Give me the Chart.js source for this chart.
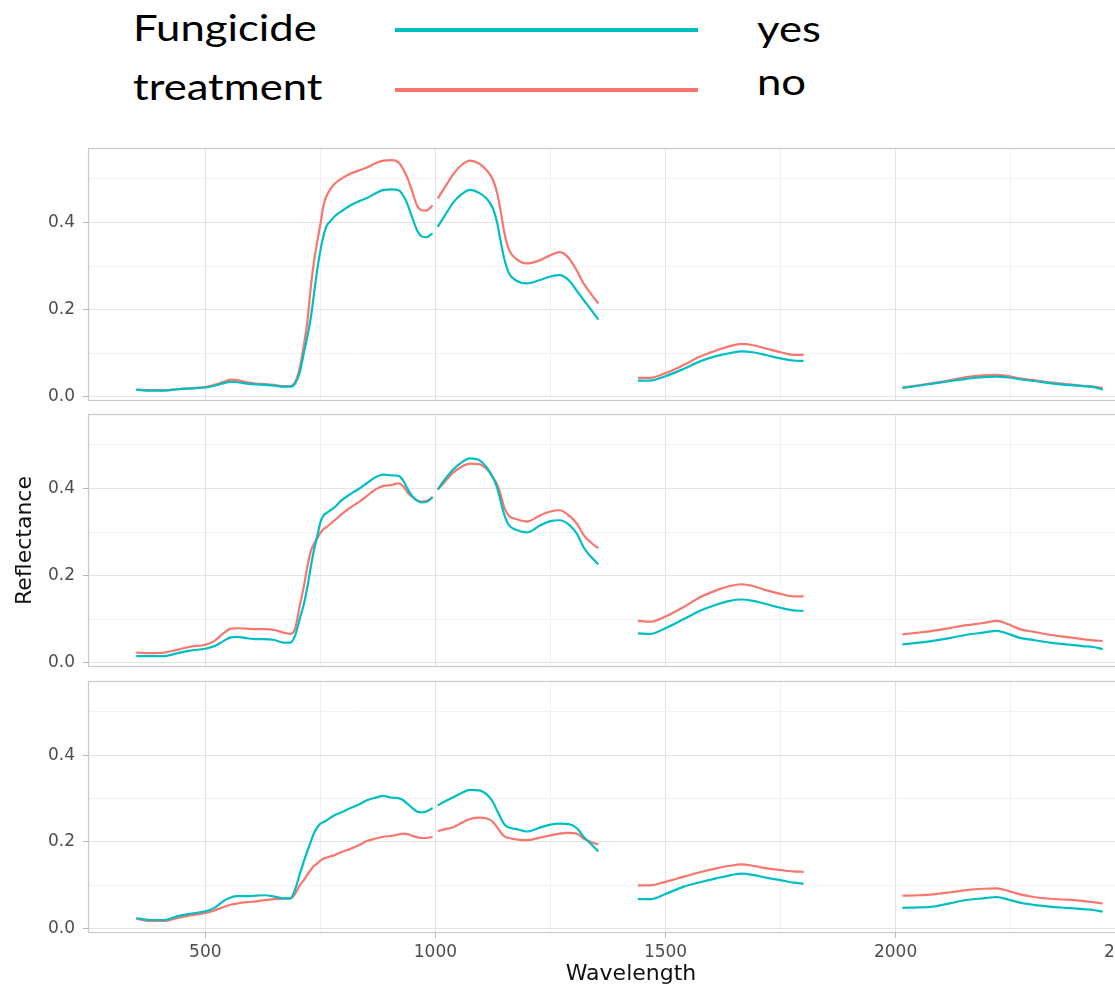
<!DOCTYPE html>
<html>
<head>
<meta charset="utf-8">
<title>Reflectance spectra by fungicide treatment</title>
<script src="https://cdn.jsdelivr.net/npm/chart.js@4.4.1/dist/chart.umd.min.js"></script>
<style>
  html, body { margin: 0; padding: 0; background: #fff; overflow: hidden; }
  #wrap { position: relative; width: 1115px; height: 989px; overflow: hidden; background: #fff; }
  #wrap canvas { position: absolute; left: 0; }
  .leg { position: absolute; font-family: Lato, "Open Sans", sans-serif; font-size: 37px; line-height: 1;
         color: #000; white-space: nowrap; transform: scaleX(1.18); transform-origin: 0 0; }
  .key { position: absolute; left: 395px; width: 303px; height: 4px; }
</style>
</head>
<body>
<div id="wrap">
  <div class="leg" style="left:133px; top:8px;">Fungicide</div>
  <div class="leg" style="left:133px; top:67px;">treatment</div>
  <div class="key" id="keyYes" style="top:28px;"></div>
  <div class="key" id="keyNo" style="top:88px;"></div>
  <div class="leg" style="left:757px; top:9px;">yes</div>
  <div class="leg" style="left:757px; top:62px;">no</div>

  <canvas id="p1" width="1180" height="257" style="top:146px;"></canvas>
  <canvas id="p2" width="1180" height="257" style="top:412px;"></canvas>
  <canvas id="p3" width="1180" height="310" style="top:679px;"></canvas>
</div>

<script>
// Wavelength (nm); null-valued rows at 1000, 1400 and 1900 mark the removed water-absorption bands
const WAVELENGTH = [
  350, 380, 410, 440, 470, 500, 520, 540, 555, 570, 590, 610, 630, 650, 670, 685, 695, 705, 714, 722,
  729, 736, 743, 750, 757, 764, 772, 780, 795, 815, 835, 851, 870, 887, 905, 920, 930, 940, 950, 960,
  970, 980, 994,
  1000,
  1005, 1020, 1039, 1057, 1075, 1095, 1112, 1125, 1134, 1142, 1150, 1160, 1175, 1199, 1227, 1250, 1270,
  1290, 1308, 1322, 1338, 1354,
  1400,
  1440, 1466, 1500, 1540, 1575, 1610, 1640, 1665, 1690, 1720, 1750, 1778, 1800,
  1900,
  2015, 2050, 2081, 2120, 2154, 2190, 2220, 2245, 2270, 2300, 2335, 2370, 2407, 2430, 2450
];

// Panel 1
const P1_YES = [
  0.016, 0.014, 0.014, 0.017, 0.019, 0.021, 0.025, 0.031, 0.034, 0.033, 0.030, 0.028, 0.027, 0.025, 0.023, 0.023, 0.030, 0.055, 0.100, 0.140,
  0.180, 0.235, 0.290, 0.336, 0.370, 0.393, 0.403, 0.413, 0.425, 0.439, 0.449, 0.456, 0.467, 0.475, 0.476, 0.474, 0.462, 0.440, 0.410, 0.382,
  0.368, 0.366, 0.375,
  null,
  0.390, 0.415, 0.446, 0.465, 0.475, 0.468, 0.454, 0.432, 0.400, 0.355, 0.315, 0.283, 0.267, 0.260, 0.268, 0.276, 0.279,
  0.267, 0.242, 0.222, 0.200, 0.177,
  null,
  0.037, 0.037, 0.047, 0.064, 0.081, 0.093, 0.100, 0.104, 0.102, 0.095, 0.088, 0.083, 0.082,
  null,
  0.020, 0.025, 0.030, 0.036, 0.041, 0.045, 0.046, 0.044, 0.040, 0.036, 0.031, 0.027, 0.024, 0.022, 0.016
];
const P1_NO = [
  0.016, 0.015, 0.015, 0.017, 0.019, 0.022, 0.027, 0.034, 0.039, 0.038, 0.033, 0.030, 0.029, 0.027, 0.024, 0.024, 0.033, 0.065, 0.118, 0.175,
  0.250, 0.310, 0.355, 0.396, 0.440, 0.462, 0.477, 0.488, 0.500, 0.512, 0.520, 0.526, 0.536, 0.542, 0.543, 0.538, 0.522, 0.500, 0.470, 0.439,
  0.428, 0.427, 0.439,
  null,
  0.455, 0.480, 0.511, 0.532, 0.542, 0.535, 0.519, 0.498, 0.468, 0.425, 0.375, 0.337, 0.317, 0.306, 0.313, 0.325, 0.332,
  0.318, 0.288, 0.260, 0.236, 0.214,
  null,
  0.043, 0.043, 0.054, 0.073, 0.092, 0.106, 0.116, 0.121, 0.118, 0.110, 0.102, 0.096, 0.096,
  null,
  0.021, 0.026, 0.031, 0.038, 0.045, 0.049, 0.050, 0.047, 0.042, 0.038, 0.033, 0.029, 0.025, 0.023, 0.020
];

// Panel 2
const P2_YES = [
  0.015, 0.015, 0.015, 0.022, 0.028, 0.032, 0.038, 0.050, 0.058, 0.059, 0.056, 0.054, 0.054, 0.052, 0.046, 0.046, 0.062, 0.100, 0.134, 0.175,
  0.219, 0.258, 0.290, 0.322, 0.338, 0.344, 0.350, 0.356, 0.372, 0.387, 0.400, 0.412, 0.426, 0.432, 0.430, 0.429, 0.418, 0.398, 0.382, 0.372,
  0.368, 0.369, 0.380,
  null,
  0.398, 0.420, 0.444, 0.460, 0.469, 0.465, 0.448, 0.425, 0.402, 0.370, 0.338, 0.315, 0.305, 0.299, 0.315, 0.325, 0.327,
  0.317, 0.295, 0.265, 0.243, 0.226,
  null,
  0.067, 0.066, 0.079, 0.100, 0.119, 0.133, 0.142, 0.145, 0.142, 0.134, 0.126, 0.120, 0.119,
  null,
  0.042, 0.046, 0.050, 0.057, 0.064, 0.069, 0.073, 0.066, 0.057, 0.052, 0.046, 0.042, 0.038, 0.036, 0.031
];
const P2_NO = [
  0.023, 0.022, 0.023, 0.030, 0.037, 0.041, 0.050, 0.068, 0.078, 0.079, 0.078, 0.077, 0.077, 0.075, 0.069, 0.066, 0.078, 0.130, 0.175, 0.222,
  0.255, 0.273, 0.285, 0.298, 0.307, 0.312, 0.319, 0.326, 0.340, 0.356, 0.370, 0.383, 0.398, 0.406, 0.408, 0.412, 0.405, 0.390, 0.380, 0.373,
  0.370, 0.371, 0.380,
  null,
  0.397, 0.415, 0.437, 0.450, 0.457, 0.456, 0.444, 0.425, 0.410, 0.385, 0.355, 0.337, 0.330, 0.324, 0.338, 0.347, 0.350,
  0.338, 0.318, 0.293, 0.276, 0.263,
  null,
  0.096, 0.094, 0.106, 0.128, 0.150, 0.166, 0.176, 0.180, 0.176, 0.166, 0.158, 0.152, 0.152,
  null,
  0.065, 0.069, 0.073, 0.080, 0.086, 0.091, 0.096, 0.088, 0.077, 0.071, 0.064, 0.059, 0.054, 0.051, 0.050
];

// Panel 3
const P3_YES = [
  0.024, 0.020, 0.020, 0.029, 0.035, 0.040, 0.048, 0.064, 0.072, 0.075, 0.075, 0.076, 0.077, 0.074, 0.070, 0.070, 0.090, 0.125, 0.155, 0.180,
  0.200, 0.220, 0.233, 0.242, 0.246, 0.250, 0.256, 0.261, 0.268, 0.278, 0.287, 0.296, 0.302, 0.306, 0.302, 0.301, 0.296, 0.287, 0.278, 0.270,
  0.268, 0.270, 0.278,
  null,
  0.284, 0.293, 0.303, 0.313, 0.320, 0.319, 0.309, 0.292, 0.272, 0.255, 0.240, 0.233, 0.230, 0.224, 0.233, 0.240, 0.242,
  0.241, 0.231, 0.212, 0.195, 0.178,
  null,
  0.068, 0.068, 0.080, 0.097, 0.107, 0.116, 0.123, 0.127, 0.124, 0.117, 0.112, 0.106, 0.104,
  null,
  0.048, 0.049, 0.051, 0.059, 0.066, 0.070, 0.073, 0.067, 0.060, 0.055, 0.051, 0.048, 0.045, 0.043, 0.039
];
const P3_NO = [
  0.023, 0.018, 0.018, 0.025, 0.031, 0.036, 0.042, 0.050, 0.055, 0.058, 0.061, 0.063, 0.066, 0.068, 0.069, 0.070, 0.080, 0.100, 0.112, 0.125,
  0.135, 0.145, 0.150, 0.157, 0.162, 0.164, 0.167, 0.169, 0.176, 0.184, 0.193, 0.202, 0.208, 0.212, 0.214, 0.217, 0.219, 0.218, 0.214, 0.211,
  0.209, 0.209, 0.212,
  null,
  0.225, 0.229, 0.234, 0.244, 0.253, 0.256, 0.254, 0.246, 0.234, 0.222, 0.213, 0.209, 0.206, 0.204, 0.210, 0.215, 0.219,
  0.221, 0.219, 0.208, 0.200, 0.194,
  null,
  0.100, 0.100, 0.108, 0.120, 0.130, 0.139, 0.145, 0.148, 0.145, 0.139, 0.135, 0.132, 0.131,
  null,
  0.076, 0.077, 0.079, 0.084, 0.089, 0.092, 0.093, 0.087, 0.079, 0.073, 0.069, 0.067, 0.064, 0.061, 0.058
];

// Axis breaks
const X_BREAKS = [500, 750, 1000, 1250, 1500, 1750, 2000, 2250, 2500];
const X_MAJOR = [500, 1000, 1500, 2000, 2500];
const Y_BREAKS = [0, 0.1, 0.2, 0.3, 0.4, 0.5];
const Y_MAJOR = [0, 0.2, 0.4];
const TREATMENTS = ['yes', 'no'];

const COLORS = { yes: '#00BFC4', no: '#F8766D' };
document.getElementById('keyYes').style.background = COLORS.yes;
document.getElementById('keyNo').style.background = COLORS.no;

const TICK_FONT = { family: '"DejaVu Sans", sans-serif', size: 17 };
const TITLE_FONT = { family: '"DejaVu Sans", sans-serif', size: 22 };
const GRID_MAJOR = '#e3e3e3';
const GRID_MINOR = '#f1f1f1';
const BORDER = '#c9c9c9';

const isMajor = (list, v) => list.some(m => Math.abs(m - v) < 1e-9);

// Frame around each facet panel
const panelBorder = {
  id: 'panelBorder',
  afterDatasetsDraw(chart) {
    const a = chart.chartArea, ctx = chart.ctx;
    ctx.save();
    ctx.strokeStyle = BORDER;
    ctx.lineWidth = 1.2;
    ctx.strokeRect(a.left + 0.5, a.top + 0.5, a.right - a.left - 1, a.bottom - a.top - 1);
    ctx.restore();
  }
};

// Keep the panel frames fixed: labels may overhang the plot area
function clearPadding(s) {
  s.paddingTop = 0; s.paddingBottom = 0; s.paddingLeft = 0; s.paddingRight = 0;
}

function series(values) {
  return WAVELENGTH.map((w, i) => ({ x: w, y: values[i] }));
}

function makePanel(id, yesVals, noVals, opt) {
  const bottom = !!opt.bottom;
  return new Chart(document.getElementById(id), {
    type: 'line',
    data: {
      datasets: [
        { label: TREATMENTS[0], data: series(yesVals), borderColor: COLORS.yes },
        { label: TREATMENTS[1], data: series(noVals), borderColor: COLORS.no }
      ].map(d => Object.assign(d, {
        borderWidth: 2.2, pointRadius: 0, fill: false, spanGaps: false,
        cubicInterpolationMode: 'monotone'
      }))
    },
    options: {
      responsive: false, animation: false, devicePixelRatio: 1, events: [],
      layout: { autoPadding: false, padding: { top: 2, right: 6, bottom: bottom ? 0 : 2, left: 0 } },
      plugins: { legend: { display: false }, tooltip: { enabled: false } },
      scales: {
        x: {
          type: 'linear', min: 245, max: 2605,
          afterBuildTicks: s => { s.ticks = X_BREAKS.map(v => ({ value: v })); },
          afterFit: s => { s.height = bottom ? 56 : 0; clearPadding(s); },
          border: { display: false },
          grid: {
            color: c => isMajor(X_MAJOR, c.tick.value) ? GRID_MAJOR : GRID_MINOR,
            lineWidth: 1,
            drawTicks: bottom, tickLength: 5,
            tickColor: c => isMajor(X_MAJOR, c.tick.value) ? '#b8b8b8' : 'rgba(0,0,0,0)'
          },
          ticks: {
            display: bottom, autoSkip: false, maxRotation: 0, padding: 4,
            color: '#4d4d4d', font: TICK_FONT,
            callback: v => isMajor(X_MAJOR, v) ? String(v) : ''
          },
          title: {
            display: bottom, text: 'Wavelength', color: '#111',
            font: TITLE_FONT, padding: { top: 0, bottom: 2 }
          }
        },
        y: {
          type: 'linear', min: -0.01, max: 0.571,
          afterBuildTicks: s => { s.ticks = Y_BREAKS.map(v => ({ value: v })); },
          afterFit: s => { s.width = 88; clearPadding(s); },
          border: { display: false },
          grid: {
            color: c => isMajor(Y_MAJOR, c.tick.value) ? GRID_MAJOR : GRID_MINOR,
            lineWidth: 1,
            drawTicks: true, tickLength: 5,
            tickColor: c => isMajor(Y_MAJOR, c.tick.value) ? '#b8b8b8' : 'rgba(0,0,0,0)'
          },
          ticks: {
            padding: 8, color: '#4d4d4d', font: TICK_FONT,
            callback: v => isMajor(Y_MAJOR, v) ? v.toFixed(1) : ''
          },
          title: {
            display: !!opt.yTitle, text: 'Reflectance', color: '#111',
            font: TITLE_FONT, padding: { top: 12, bottom: 0 }
          }
        }
      }
    },
    plugins: [panelBorder]
  });
}

makePanel('p1', P1_YES, P1_NO, {});
makePanel('p2', P2_YES, P2_NO, { yTitle: true });
makePanel('p3', P3_YES, P3_NO, { bottom: true });
</script>
</body>
</html>
